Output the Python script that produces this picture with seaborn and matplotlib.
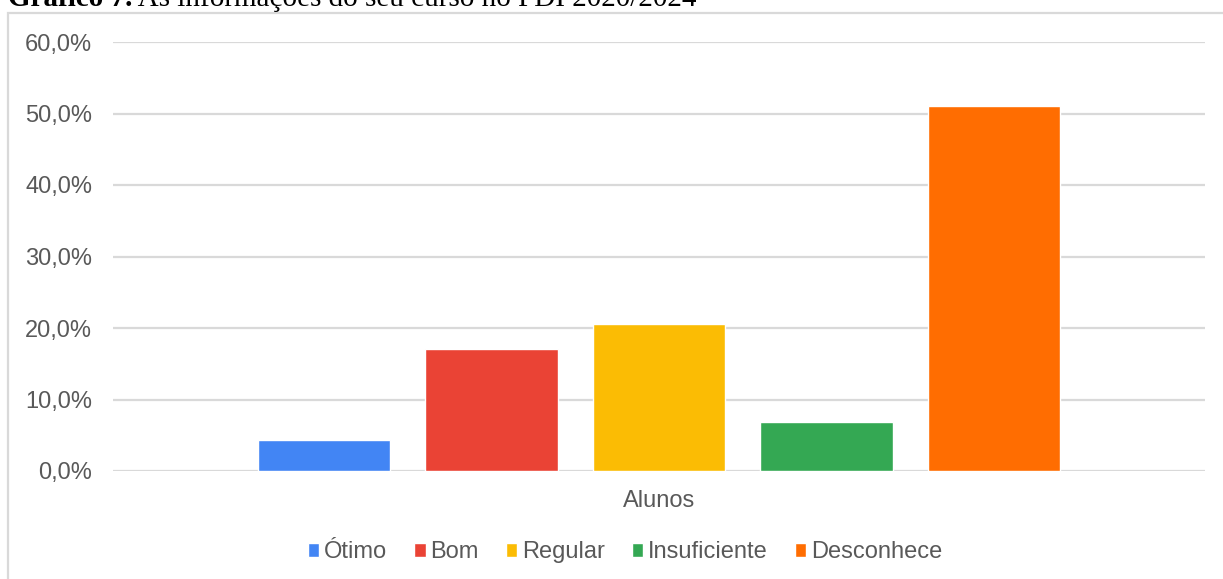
import pandas as pd
import matplotlib
matplotlib.use('Agg')
import matplotlib.pyplot as plt
import seaborn as sns
from matplotlib.patches import Rectangle

# dados do gráfico (percentual de alunos)
grupo = 'Alunos'
categorias = ['Ótimo', 'Bom', 'Regular', 'Insuficiente', 'Desconhece']
valores = [4.3, 17.1, 20.6, 6.9, 51.0]
cores = ['#4285F4', '#EA4335', '#FBBC04', '#34A853', '#FF6D01']
yticks = [0, 10, 20, 30, 40, 50, 60]
titulo_negrito = 'Gráfico 7.'
titulo_resto = ' As informações do seu curso no PDI 2020/2024'

df = pd.DataFrame({'grupo': [grupo] * len(categorias),
                   'categoria': categorias,
                   'valor': valores})

sns.set_theme(style='white')
plt.rcParams['font.family'] = ['Liberation Sans', 'DejaVu Sans']

texto = '#595959'
grade = '#d9d9d9'

fig = plt.figure(figsize=(12.23, 5.79), dpi=100)
ax = fig.add_axes([113 / 1223, 108 / 579, (1205 - 113) / 1223, (537 - 108) / 579])

sns.barplot(data=df, x='grupo', y='valor', hue='categoria', palette=cores,
            hue_order=categorias, width=0.767, gap=0.21, saturation=1,
            ax=ax, legend=True)

ax.set_xlim(-0.5, 0.5)
ax.set_ylim(0, 60)
ax.set_yticks(yticks)
ax.set_yticklabels([f'{v:.1f}%'.replace('.', ',') for v in yticks])
ax.yaxis.grid(True, color=grade, linewidth=1.6)
ax.set_axisbelow(True)
for s in ax.spines.values():
    s.set_visible(False)
ax.tick_params(axis='y', length=0, pad=15, labelsize=17, labelcolor=texto)
ax.tick_params(axis='x', length=0, pad=14, labelsize=17, labelcolor=texto)
ax.set_xlabel('')
ax.set_ylabel('')

handles, labels = ax.get_legend_handles_labels()
ax.legend(handles, labels, loc='center', bbox_to_anchor=(625 / 1223, 0.046),
          bbox_transform=fig.transFigure, ncol=5, frameon=False,
          fontsize=17, labelcolor=texto, handlelength=0.48, handleheight=0.48,
          handletextpad=0.2, columnspacing=1.15, borderaxespad=0)

# moldura do gráfico
fig.patches.append(Rectangle((8 / 1223, -0.05), 1.2, 1 - 13 / 579 + 0.05,
                             transform=fig.transFigure, fill=False,
                             edgecolor=grade, linewidth=1.6))

# título cortado no topo
t1 = fig.text(8 / 1223, 1 - 6 / 579, titulo_negrito, family='Liberation Serif',
              fontsize=21, fontweight='bold', va='baseline', ha='left', color='black')
fig.canvas.draw()
bb = t1.get_window_extent()
fig.text(bb.x1 / fig.bbox.width, 1 - 6 / 579, titulo_resto, family='Liberation Serif',
         fontsize=21, va='baseline', ha='left', color='black')

fig.savefig('out.png', dpi=100)
